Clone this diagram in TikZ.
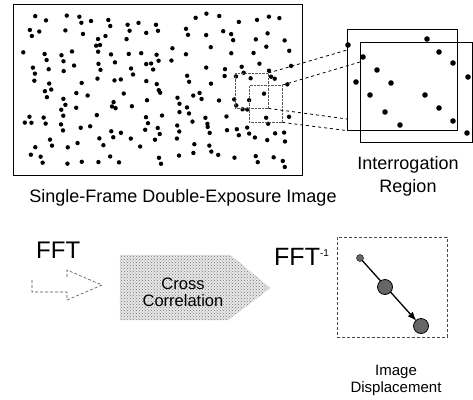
\documentclass[tikz,border=0pt]{standalone}
\usepackage{fontspec}
\setmainfont{Liberation Sans}
\usepackage{tikz}
\usetikzlibrary{patterns,arrows.meta}

\begin{document}
\begin{tikzpicture}[x=1pt, y=-1pt,
    window/.style={draw, densely dotted, gray!70!black, inner sep=0pt, anchor=north west},
    zoombox/.style={draw, line width=0.6pt, inner sep=0pt, anchor=north west},
    caption/.style={font=\fontsize{18}{23}\selectfont, align=center, inner sep=0pt},
    fftlabel/.style={font=\fontsize{24}{26}\selectfont, inner sep=0pt, anchor=base west},
    blob/.style={fill=black!60, draw=black}]
  \useasboundingbox (0,0) rectangle (473,399);

  % Single-Frame Double-Exposure Image
  \node[draw, line width=0.9pt, inner sep=0pt, anchor=north west,
        minimum width=289pt, minimum height=171pt] (frame) at (13,4) {};
  \pgfmathsetseed{7311}
  \foreach \c in {0,...,16}{
    \foreach \r in {0,...,9}{
      \pgfmathsetmacro{\px}{23+\c*16+13*rnd}
      \pgfmathsetmacro{\py}{13+\r*15.5+12*rnd}
      \pgfmathtruncatemacro{\pair}{rnd<0.3 ? 1 : 0}
      \pgfmathtruncatemacro{\skip}{rnd<0.12 ? 1 : 0}
      \ifnum\skip=0
        \fill (\px,\py) circle (2.2pt);
        \ifnum\pair=1 \fill (\px+2,\py+6) circle (2.2pt); \fi
      \fi
    }
  }

  % Interrogation windows
  \node[window, minimum width=33pt, minimum height=35pt] (winA) at (235,73) {};
  \node[window, minimum width=33pt, minimum height=37pt] (winB) at (249,85) {};

  % Interrogation Region (magnified)
  \node[zoombox, minimum width=110pt, minimum height=101pt] (zoomA) at (347,29) {};
  \node[zoombox, minimum width=112pt, minimum height=100pt] (zoomB) at (360,42) {};
  \foreach \p in {(348,45),(427,39),(363,57),(439,52),(377,70),(453,63),(468,77),(356,82),
                  (391,83),(370,95),(425,95),(439,108),(385,112),(453,121),(400,125),(467,133)}
    \fill \p circle (2.8pt);

  % Dashed projection lines
  \coordinate (z1) at (347,50);
  \coordinate (z2) at (360,62);
  \coordinate (z3) at (347,119);
  \draw[dashed, line width=0.8pt] (winA.north east) -- (z1);
  \draw[dashed, line width=0.8pt] (winB.north east) -- (z2);
  \draw[dashed, line width=0.8pt] (winA.south east) -- (z3);
  \draw[dashed, line width=0.8pt] (winB.south east) -- (zoomA.south west);

  % Captions
  \node[caption, anchor=base] (imgcap) at (183,202) {Single-Frame Double-Exposure Image};
  \node[caption] (regcap) at (408,176) {Interrogation\\Region};

  % FFT
  \node[fftlabel] (fft) at (36,258) {FFT};
  \draw[densely dashed, gray!60!black, line width=0.6pt]
    (32,280) -- (32,292) -- (67,292) -- (67,300) -- (102,285) -- (67,270) -- (67,278);

  % Cross Correlation
  \draw[preaction={fill=gray!18}, pattern=crosshatch dots, pattern color=black!55,
        draw=gray!60, densely dotted]
    (120,255) -- (230,255) -- (270,288) -- (228,320) -- (120,320) -- cycle;
  \node[font=\fontsize{16.5}{17}\selectfont, align=center, inner sep=0pt] (xcorr) at (183,292)
    {Cross\\Correlation};

  % Inverse FFT
  \node[fftlabel, font=\fontsize{25}{27}\selectfont] (ifft) at (274,265)
    {FFT\raisebox{9pt}{\fontsize{10}{10}\selectfont -1}};

  % Image Displacement
  \node[draw, densely dashed, gray!60!black, inner sep=0pt, anchor=north west,
        minimum width=110pt, minimum height=100pt] (dispbox) at (337,237) {};
  \coordinate (p1) at (360,258);
  \coordinate (p2) at (385,287);
  \coordinate (p3) at (421,326);
  \draw[line width=1.3pt, -{Latex[length=9pt,width=7pt]}, shorten >=7pt] (p1) -- (p3);
  \filldraw[blob] (p1) circle (3.5pt);
  \filldraw[blob, line width=0.8pt] (p2) circle (7.5pt);
  \filldraw[blob, line width=0.8pt] (p3) circle (7.5pt);
  \node[font=\fontsize{15}{17}\selectfont, align=center, inner sep=0pt] (dispcap) at (396,380)
    {Image\\Displacement};
\end{tikzpicture}
\end{document}
